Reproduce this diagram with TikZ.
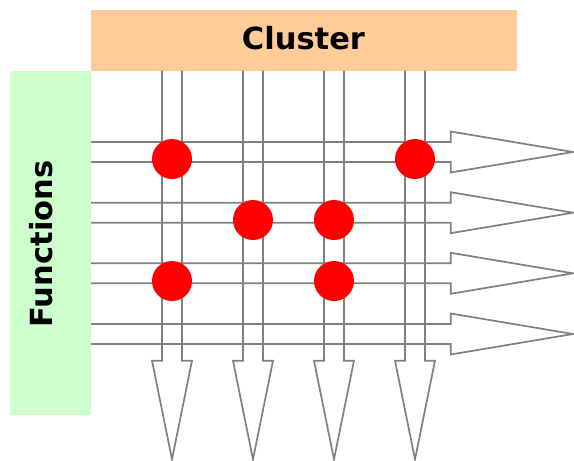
\documentclass[tikz,border=0pt]{standalone}
\usepackage{fontspec}
\setmainfont{DejaVu Sans}
\begin{document}
\begin{tikzpicture}[x=1pt,y=-1pt,
  lbl/.style={font=\bfseries\fontsize{30.5}{34}\selectfont,inner sep=0pt},
  arr/.style={draw=black!50,line width=1.7pt,line join=miter},
  dot/.style={circle,fill=red,draw=none,minimum size=40pt,inner sep=0pt}]
\useasboundingbox (0,0) rectangle (574,461);
\definecolor{clusterc}{HTML}{FFCC99}
\definecolor{funcc}{HTML}{CCFFCC}
% boxes
\fill[clusterc] (91,10) rectangle (517,70.7);
\fill[funcc] (10,71) rectangle (91,415);
\node[lbl] (cluster) at (303.5,38.4) {Cluster};
\node[lbl,rotate=90] (functions) at (41.5,244) {Functions};
% vertical arrows
\foreach \cx in {172,253,334,415}{
  \draw[arr] (\cx-10,70.7) -- (\cx-10,360.7) -- (\cx-20,360.7) -- (\cx,459.3)
    -- (\cx+20,360.7) -- (\cx+10,360.7) -- (\cx+10,70.7);
}
% horizontal arrows
\foreach \cy in {152,212.7,273.3,334}{
  \draw[arr] (91,\cy-10) -- (450.7,\cy-10) -- (450.7,\cy-20.5) -- (573,\cy)
    -- (450.7,\cy+20.5) -- (450.7,\cy+10) -- (91,\cy+10);
}
% dots
\node[dot] (d1) at (172,159) {};
\node[dot] (d2) at (415,159) {};
\node[dot] (d3) at (253,220) {};
\node[dot] (d4) at (334,220) {};
\node[dot] (d5) at (172,281) {};
\node[dot] (d6) at (334,281) {};
\end{tikzpicture}
\end{document}
